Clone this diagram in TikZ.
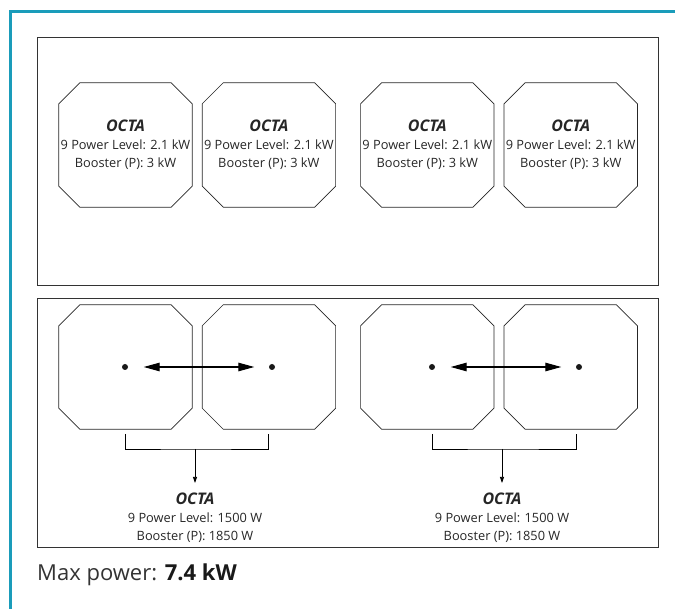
\documentclass[tikz,border=0pt]{standalone}
\usepackage{fontspec}
\setmainfont{Open Sans}
\usepackage{xcolor}
\usetikzlibrary{arrows.meta,positioning}

\definecolor{tealbar}{HTML}{1A9CBA}
\newcommand{\octatitle}{{\fontsize{16}{18}\selectfont\bfseries\itshape OCTA}}

\begin{document}
\begin{tikzpicture}[x=1pt, y=-1pt,
    node distance=10pt and 10pt,
    frame/.style={rectangle, draw=black!80, line width=0.8pt, minimum width=621pt, minimum height=248pt, inner sep=0pt},
    octa/.style={rectangle, minimum width=133pt, minimum height=124pt, inner sep=0pt},
    octaline/.style={draw=black!85, line width=0.7pt},
    info/.style={align=center, font=\fontsize{12.8}{18}\selectfont, text=black!85, inner sep=0pt},
    dot/.style={circle, fill=black!90, minimum size=6pt, inner sep=0pt},
    pair/.style={{Triangle[length=16pt,width=8.5pt]}-{Triangle[length=16pt,width=8.5pt]}, line width=1.1pt, shorten <=15.5pt, shorten >=14.5pt},
    arrow/.style={-{Triangle[length=6pt,width=4pt]}, line width=0.7pt}
]
\useasboundingbox (0,0) rectangle (675,609);

% teal side bar
\coordinate (bar1) at (10,609);
\coordinate (bar2) at (10,12);
\coordinate (bar3) at (675,12);
\draw[tealbar, line width=3pt] (bar1) -- (bar2) -- (bar3);

% frames
\node[frame] (topbox) at (347.5,161) {};
\node[frame, minimum height=249pt] (botbox) at (347.5,422.5) {};

% top row
\node[octa] (o1) at (125.5,145) {};
\node[octa, right=of o1] (o2) {};
\node[octa, right=25pt of o2] (o3) {};
\node[octa, right=of o3] (o4) {};
\foreach \i in {1,...,4}
  \node[info] (t\i) at (o\i) {\octatitle\\9 Power Level: 2.1 kW\\Booster (P): 3 kW};

% bottom row
\node[octa] (o5) at (125.5,367) {};
\node[octa, right=of o5] (o6) {};
\node[octa, right=25pt of o6] (o7) {};
\node[octa, right=of o7] (o8) {};

% octagon outlines
\foreach \n in {o1,o2,o3,o4,o5,o6,o7,o8}
  \draw[octaline] ([xshift=21pt]\n.north west) -- ([xshift=-21pt]\n.north east)
    -- ([yshift=-21pt]\n.north east) -- ([yshift=21pt]\n.south east)
    -- ([xshift=-21pt]\n.south east) -- ([xshift=21pt]\n.south west)
    -- ([yshift=21pt]\n.south west) -- ([yshift=-21pt]\n.north west) -- cycle;

\node[dot] (d1) at (125,367) {};
\node[dot] (d2) at (272,367) {};
\node[dot] (d3) at (432,367) {};
\node[dot] (d4) at (579,367) {};
\draw[pair] (d1) -- (d2);
\draw[pair] (d3) -- (d4);

% merged zones
\coordinate (b1) at (125,434);
\coordinate (b2) at (268,434);
\coordinate (b3) at (432,434);
\coordinate (b4) at (576,434);
\coordinate (m1) at (195,449);
\coordinate (m2) at (502,449);
\draw[line width=0.7pt] (b1) |- (m1) -| (b2);
\draw[line width=0.7pt] (b3) |- (m2) -| (b4);

\node[info] (t5) at (195,518) {\octatitle\\9 Power Level: 1500 W\\Booster (P): 1850 W};
\node[info] (t6) at (502,518) {\octatitle\\9 Power Level: 1500 W\\Booster (P): 1850 W};
\draw[arrow, shorten >=10pt] (m1) -- (t5);
\draw[arrow, shorten >=10pt] (m2) -- (t6);

\node[anchor=west, inner sep=0pt, font=\fontsize{22}{26}\selectfont, text=black!80] (maxp) at (37,575) {Max power: \textcolor{black!90}{\textbf{7.4 kW}}};
\end{tikzpicture}
\end{document}
